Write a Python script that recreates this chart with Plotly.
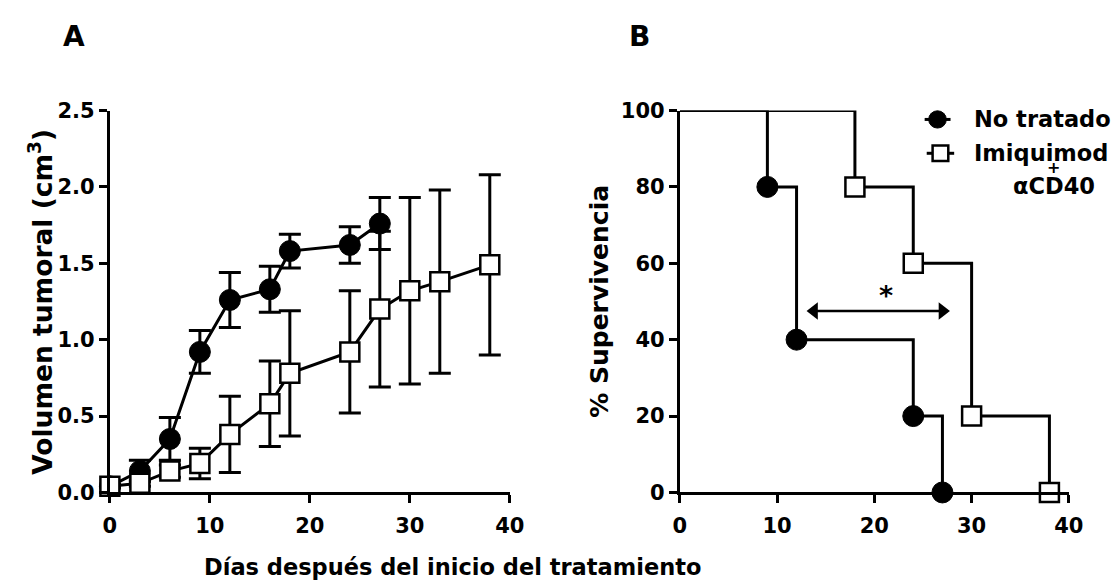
import plotly.graph_objects as go

# ---------------- data ----------------
# Panel A: tumour volume (cm3) vs days
days_nt = [0, 3, 6, 9, 12, 16, 18, 24, 27]
vol_nt = [0.04, 0.14, 0.35, 0.92, 1.26, 1.33, 1.58, 1.62, 1.76]
err_nt = [0.01, 0.07, 0.14, 0.14, 0.18, 0.15, 0.11, 0.12, 0.17]

days_im = [0, 3, 6, 9, 12, 16, 18, 24, 27, 30, 33, 38]
vol_im = [0.04, 0.06, 0.14, 0.19, 0.38, 0.58, 0.78, 0.92, 1.20, 1.32, 1.38, 1.49]
err_im = [0.01, 0.02, 0.04, 0.10, 0.25, 0.28, 0.41, 0.40, 0.51, 0.61, 0.60, 0.59]

# Panel B: survival (%) vs days
surv_days_nt = [0, 9, 12, 24, 27]
surv_nt = [100, 80, 40, 20, 0]
surv_days_im = [0, 18, 24, 30, 38]
surv_im = [100, 80, 60, 20, 0]

# significance bracket in panel B (days, %)
arrow_days = [13.8, 27.0]
arrow_level = [47.5, 47.5]

x_ticks = [0, 10, 20, 30, 40]
yA_ticks = [0.0, 0.5, 1.0, 1.5, 2.0, 2.5]
yA_labels = ["0.0", "0.5", "1.0", "1.5", "2.0", "2.5"]
yB_ticks = [0, 20, 40, 60, 80, 100]

name_nt = "No tratado"
name_im = "Imiquimod"

# ---------------- style ----------------
FONT = "DejaVu Sans, Liberation Sans, Arial, sans-serif"
BLACK = "#000000"
LW = 3
W, H = 1119, 584

def px_x(p):
    return p / W

def px_y(p):
    return 1 - p / H

fig = go.Figure()

# Panel A traces
fig.add_trace(go.Scatter(
    x=days_nt, y=vol_nt, mode="lines+markers", name=name_nt,
    line=dict(color=BLACK, width=LW),
    marker=dict(symbol="circle", size=21, color=BLACK, line=dict(color=BLACK, width=1)),
    error_y=dict(type="data", array=err_nt, color=BLACK, thickness=LW, width=11),
    cliponaxis=False, showlegend=False, xaxis="x", yaxis="y"))
fig.add_trace(go.Scatter(
    x=days_im, y=vol_im, mode="lines+markers", name=name_im,
    line=dict(color=BLACK, width=LW),
    marker=dict(symbol="square", size=19, color="white", line=dict(color=BLACK, width=2.5)),
    error_y=dict(type="data", array=err_im, color=BLACK, thickness=LW, width=11),
    cliponaxis=False, showlegend=False, xaxis="x", yaxis="y"))

# Panel B traces (step lines + markers at events)
fig.add_trace(go.Scatter(
    x=surv_days_nt, y=surv_nt, mode="lines", line=dict(color=BLACK, width=LW, shape="hv"),
    cliponaxis=False, showlegend=False, xaxis="x2", yaxis="y2"))
fig.add_trace(go.Scatter(
    x=surv_days_im, y=surv_im, mode="lines", line=dict(color=BLACK, width=LW, shape="hv"),
    cliponaxis=False, showlegend=False, xaxis="x2", yaxis="y2"))
fig.add_trace(go.Scatter(
    x=surv_days_nt[1:], y=surv_nt[1:], mode="markers",
    marker=dict(symbol="circle", size=21, color=BLACK, line=dict(color=BLACK, width=1)),
    cliponaxis=False, showlegend=False, xaxis="x2", yaxis="y2"))
fig.add_trace(go.Scatter(
    x=surv_days_im[1:], y=surv_im[1:], mode="markers",
    marker=dict(symbol="square", size=19, color="white", line=dict(color=BLACK, width=2.5)),
    cliponaxis=False, showlegend=False, xaxis="x2", yaxis="y2"))
# double-headed arrow
fig.add_trace(go.Scatter(
    x=arrow_days, y=arrow_level, mode="lines+markers",
    line=dict(color=BLACK, width=2.5),
    marker=dict(symbol=["triangle-left", "triangle-right"], size=15, color=BLACK),
    cliponaxis=False, showlegend=False, xaxis="x2", yaxis="y2"))

tickfont = dict(family=FONT, size=21, color=BLACK, weight="bold")
titlefont = dict(family=FONT, size=25, color=BLACK, weight="bold")

common_x = dict(range=[0, 40], tickvals=x_ticks, ticks="outside", ticklen=8, tickwidth=LW,
                tickcolor=BLACK, showline=True, linecolor=BLACK, linewidth=LW,
                showgrid=False, zeroline=False, tickfont=tickfont, fixedrange=True,
                ticklabelstandoff=4)
common_y = dict(ticks="outside", ticklen=8, tickwidth=LW, tickcolor=BLACK, showline=True,
                linecolor=BLACK, linewidth=LW, showgrid=False, zeroline=False,
                tickfont=tickfont, fixedrange=True)

yd = [px_y(492.7), px_y(94.4)]
fig.update_layout(
    width=W, height=H,
    margin=dict(l=0, r=0, t=0, b=0),
    paper_bgcolor="white", plot_bgcolor="white",
    xaxis=dict(domain=[px_x(96.8), px_x(504.7)], anchor="y", **common_x),
    yaxis=dict(domain=yd, anchor="x", range=[0, 2.5], tickvals=yA_ticks, ticktext=yA_labels,
               **common_y),
    xaxis2=dict(domain=[px_x(678.2), px_x(1075)], anchor="y2", **common_x),
    yaxis2=dict(domain=yd, anchor="x2", range=[0, 100], tickvals=yB_ticks, **common_y),
    showlegend=False,
)

def text_ann(text, x, y, font, **kw):
    d = dict(text=text, x=px_x(x), y=px_y(y), xref="paper", yref="paper", showarrow=False,
             xanchor="center", yanchor="middle", font=font)
    d.update(kw)
    return d

letterfont = dict(family=FONT, size=28, color=BLACK, weight="bold")
legfont = dict(family=FONT, size=22.5, color=BLACK, weight="bold")
xtitlefont = dict(family=FONT, size=22.5, color=BLACK, weight="bold")
ytitlefontA = dict(family=FONT, size=26.5, color=BLACK, weight="bold")

ann = [
    text_ann("A", 60.3, 17.6, letterfont),
    text_ann("B", 636.6, 17.6, letterfont),
    text_ann("Días después del inicio del tratamiento", 445.9, 570.0, xtitlefont),
    text_ann("Volumen tumoral (cm<sup>3</sup>)", 25.8, 293.6, ytitlefontA, textangle=-90),
    text_ann("% Supervivencia", 596.0, 293.6, titlefont, textangle=-90),
    text_ann(name_nt, 976.5, 103.7, legfont, xanchor="left"),
    text_ann(name_im, 976.5, 139.0, legfont, xanchor="left"),
    text_ann("+", 1059.8, 154.0, dict(family=FONT, size=16, color=BLACK, weight="bold")),
    text_ann("αCD40", 1059.8, 173.0, legfont),
]
# asterisks
ann.append(dict(text="*", x=41.2, y=1.45, xref="x", yref="y", showarrow=False,
                xanchor="center", yanchor="middle",
                font=dict(family=FONT, size=27, color=BLACK, weight="bold")))
ann.append(dict(text="*", x=21.2, y=51.5, xref="x2", yref="y2", showarrow=False,
                xanchor="center", yanchor="middle",
                font=dict(family=FONT, size=27, color=BLACK, weight="bold")))
fig.update_layout(annotations=ann)

shapes = []
# legend symbol 1: line + filled circle
shapes.append(dict(type="line", xref="paper", yref="paper", x0=px_x(927.9), x1=px_x(954.3),
                   y0=px_y(103.7), y1=px_y(103.7), line=dict(color=BLACK, width=LW)))
shapes.append(dict(type="circle", xref="paper", yref="paper", x0=px_x(932.0), x1=px_x(950.0),
                   y0=px_y(112.7), y1=px_y(94.7), fillcolor=BLACK, line=dict(color=BLACK, width=1)))
# legend symbol 2: line + open square
shapes.append(dict(type="line", xref="paper", yref="paper", x0=px_x(930), x1=px_x(958),
                   y0=px_y(139), y1=px_y(139), line=dict(color=BLACK, width=LW)))
shapes.append(dict(type="rect", xref="paper", yref="paper", x0=px_x(936.0), x1=px_x(952.0),
                   y0=px_y(147.0), y1=px_y(131.0), fillcolor="white", line=dict(color=BLACK, width=2.5)))
fig.update_layout(shapes=shapes)

fig.write_html("out.html")
